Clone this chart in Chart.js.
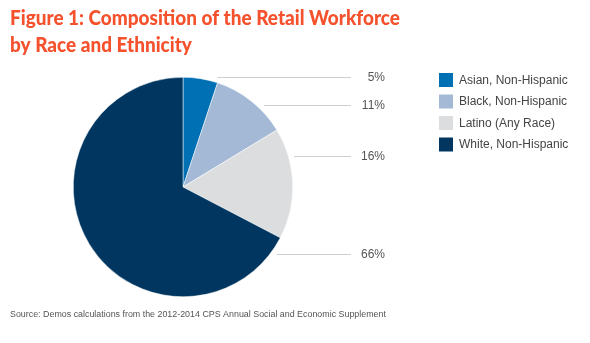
<!DOCTYPE html>
<html>
<head>
<meta charset="utf-8">
<script src="https://cdn.jsdelivr.net/npm/chart.js@4"></script>
<style>
  html, body { margin: 0; padding: 0; background: #fff; }
  #wrap { position: relative; width: 590px; height: 343px; }
</style>
</head>
<body>
<div id="wrap"><canvas id="c" width="590" height="343"></canvas></div>
<script>
// Retail workforce composition, percent of workers
const categories = ['Asian, Non-Hispanic', 'Black, Non-Hispanic', 'Latino (Any Race)', 'White, Non-Hispanic'];
const shares = [5, 11, 16, 66];
const shareLabels = ['5%', '11%', '16%', '66%'];

const titleLines = ['Figure 1: Composition of the Retail Workforce', 'by Race and Ethnicity'];
const sourceNote = 'Source: Demos calculations from the 2012-2014 CPS Annual Social and Economic Supplement';

const sliceColors = ['#0070b5', '#a3b9d6', '#dcdddf', '#00365f'];

// vertical placement of each percentage callout
const calloutY = [77, 105, 156, 254];

const headerAndNotes = {
  id: 'headerAndNotes',
  afterDraw(chart) {
    const ctx = chart.ctx;
    ctx.save();
    // title
    ctx.fillStyle = '#f4512c';
    ctx.textBaseline = 'alphabetic';
    ctx.textAlign = 'left';
    ctx.font = '900 21px Lato';
    const targetW = 390;
    const w0 = ctx.measureText(titleLines[0]).width;
    const sx = targetW / w0;
    ctx.save();
    ctx.translate(10, 0);
    ctx.scale(sx, 1);
    ctx.fillText(titleLines[0], 0, 25);
    ctx.fillText(titleLines[1], 0, 51.5);
    ctx.restore();

    // source note
    ctx.fillStyle = '#555';
    ctx.font = '8.9px "Liberation Sans", Arial, sans-serif';
    ctx.textBaseline = 'middle';
    ctx.fillText(sourceNote, 10, 315);

    // callout lines and percentages
    const arc = chart.getDatasetMeta(0).data[0];
    const cx = arc.x, cy = arc.y, r = arc.outerRadius + 5.5;
    ctx.strokeStyle = '#cfcfcf';
    ctx.lineWidth = 1;
    ctx.font = '12px "Liberation Sans", Arial, sans-serif';
    ctx.fillStyle = '#555';
    ctx.textAlign = 'right';
    shareLabels.forEach((lab, i) => {
      const y = calloutY[i];
      const dy = y - cy;
      const x0 = cx + Math.sqrt(Math.max(0, r * r - dy * dy));
      ctx.beginPath();
      ctx.moveTo(x0, y + 0.5);
      ctx.lineTo(351, y + 0.5);
      ctx.stroke();
      ctx.fillText(lab, 385, y + 1);
    });

    // legend
    ctx.textAlign = 'left';
    categories.forEach((name, i) => {
      const y = 73 + i * 21.5;
      ctx.fillStyle = sliceColors[i];
      ctx.fillRect(439, y, 14, 14);
      ctx.fillStyle = '#444';
      ctx.fillText(name, 459, y + 7.5);
    });
    ctx.restore();
  }
};

new Chart(document.getElementById('c'), {
  type: 'pie',
  data: {
    labels: categories,
    datasets: [{
      data: shares,
      backgroundColor: sliceColors,
      borderColor: '#ffffff',
      borderWidth: 0.5
    }]
  },
  options: {
    responsive: false,
    animation: false,
    layout: { padding: { left: 73, top: 77, right: 297, bottom: 46 } },
    plugins: {
      legend: { display: false },
      title: { display: false },
      tooltip: { enabled: false }
    }
  },
  plugins: [headerAndNotes]
});
</script>
</body>
</html>
